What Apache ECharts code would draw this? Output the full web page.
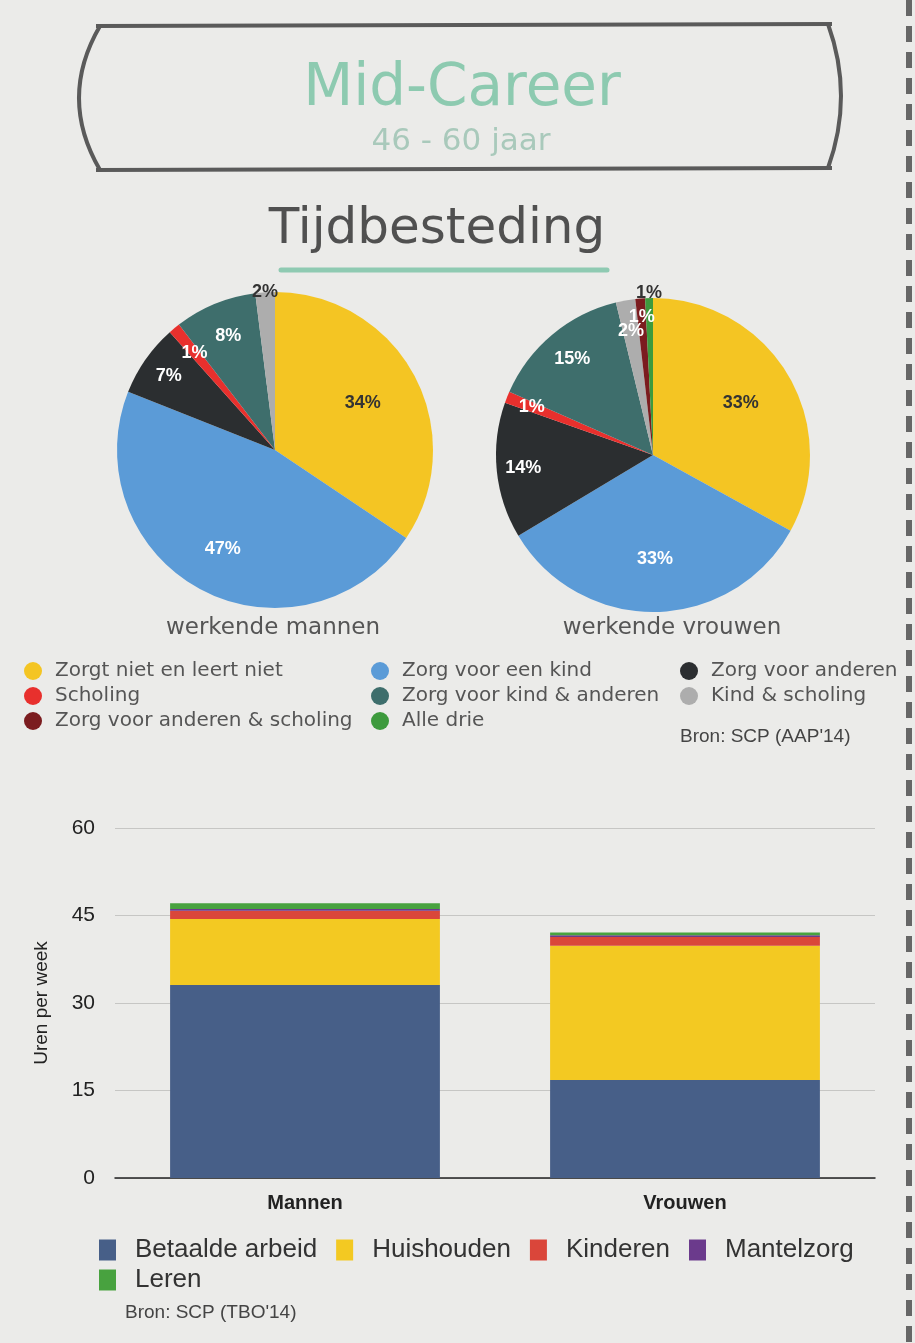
<!DOCTYPE html>
<html>
<head>
<meta charset="utf-8">
<title>Mid-Career tijdbesteding</title>
<script src="https://cdn.jsdelivr.net/npm/echarts@6/dist/echarts.min.js"></script>
<style>
  html, body { margin: 0; padding: 0; background: #ebebe9; }
  #main { width: 915px; height: 1343px; }
</style>
</head>
<body>
<div id="main"></div>
<script>
// pie categories (legend order)
const pieNames = [
  "Zorgt niet en leert niet",
  "Zorg voor een kind",
  "Zorg voor anderen",
  "Scholing",
  "Zorg voor kind & anderen",
  "Kind & scholing",
  "Zorg voor anderen & scholing",
  "Alle drie",
];
const pieColors = ["#f4c523", "#5b9bd7", "#2b2e30", "#e8302d", "#3e6e6c", "#adadad", "#7b1c1f", "#3d9a3d"];
// shares in %
const mannenShares = [34.4, 46.6, 7.4, 1.2, 8.4, 2.0, 0, 0];
const vrouwenShares = [33.0, 33.4, 14.0, 1.2, 14.6, 2.0, 1.0, 0.8];

// bar chart
const groups = ["Mannen", "Vrouwen"];
const activities = ["Betaalde arbeid", "Huishouden", "Kinderen", "Mantelzorg", "Leren"];
const barColors = ["#475f88", "#f3c922", "#da463a", "#6b3a8c", "#48a23f"];
const betaaldeArbeid = [33.1, 16.8];
const huishouden = [11.3, 23.0];
const kinderen = [1.4, 1.5];
const mantelzorg = [0.3, 0.3];
const leren = [1.0, 0.5];
const yTicks = [0, 15, 30, 45, 60];

const chart = echarts.init(document.getElementById("main"));

// where the % labels sit, as a fraction of the radius
const mannenLabelR = [0.63, 0.71, 0.82, 0.8, 0.78, 1.0];
const vrouwenLabelR = [0.65, 0.66, 0.83, 0.83, 0.8, 0.8, 0.88, 1.03];

function pieData(shares, radii) {
  return shares
    .map((v, i) => ({
      name: pieNames[i],
      value: v,
      itemStyle: { color: pieColors[i] },
      label: { color: i === 0 || radii[i] >= 1 ? "#333" : "#fff" },
    }))
    .filter((d) => d.value > 0);
}

function pushOut(cx, cy, R, radii) {
  return function (p) {
    const r = p.labelRect;
    const lx = r.x + r.width / 2;
    const ly = r.y + r.height / 2;
    const vx = lx - cx;
    const vy = ly - cy;
    const d = Math.sqrt(vx * vx + vy * vy) || 1;
    const k = (radii[p.dataIndex] * R) / d - 1;
    return { dx: vx * k, dy: vy * k };
  };
}

function pieSeries(name, shares, radii, cx, cy, R) {
  return {
    name: name,
    type: "pie",
    center: [cx, cy],
    radius: [0, R],
    startAngle: 90,
    clockwise: true,
    avoidLabelOverlap: false,
    emphasis: { disabled: true },
    label: {
      show: true,
      position: "inside",
      fontFamily: "Liberation Sans",
      fontWeight: "bold",
      fontSize: 18,
      formatter: (p) => Math.round(p.value) + "%",
    },
    labelLine: { show: false },
    labelLayout: pushOut(cx, cy, R, radii),
    data: pieData(shares, radii),
  };
}

function pieLegend(left, idx) {
  return {
    orient: "vertical",
    left: left,
    top: 661,
    padding: 0,
    icon: "circle",
    itemWidth: 18,
    itemHeight: 18,
    itemGap: 5,
    selectedMode: false,
    textStyle: {
      fontFamily: "DejaVu Sans",
      fontSize: 20,
      lineHeight: 18,
      color: "#555",
      padding: [0, 0, 0, 8],
    },
    data: idx.map((i) => pieNames[i]),
  };
}

function barLegend(top, names) {
  return {
    left: 99,
    top: top,
    padding: 0,
    icon: "rect",
    itemWidth: 17,
    itemHeight: 21,
    itemGap: 19,
    selectedMode: false,
    textStyle: { fontFamily: "Liberation Sans", fontSize: 26, color: "#333", padding: [0, 0, 0, 14] },
    data: names,
  };
}

const option = {
  backgroundColor: "#ebebe9",
  animation: false,
  legend: [
    pieLegend(24, [0, 3, 6]),
    pieLegend(371, [1, 4, 7]),
    pieLegend(680, [2, 5]),
    barLegend(1237, activities.slice(0, 4)),
    barLegend(1267, activities.slice(4)),
  ],
  grid: { left: 115, right: 40, top: 828, bottom: 165 },
  xAxis: {
    type: "category",
    data: groups,
    axisTick: { show: false },
    axisLine: { lineStyle: { color: "#222", width: 1.5 } },
    axisLabel: {
      margin: 15,
      fontFamily: "Liberation Sans",
      fontWeight: "bold",
      fontSize: 20,
      color: "#222",
    },
  },
  yAxis: {
    type: "value",
    min: yTicks[0],
    max: yTicks[yTicks.length - 1],
    interval: 15,
    name: "Uren per week",
    nameLocation: "middle",
    nameGap: 64,
    nameRotate: 90,
    nameTextStyle: { fontFamily: "Liberation Sans", fontSize: 19, color: "#222" },
    axisLine: { show: false },
    axisTick: { show: false },
    axisLabel: { margin: 20, fontFamily: "Liberation Sans", fontSize: 21, color: "#222" },
    splitLine: { lineStyle: { color: "#c6c6c4" } },
  },
  series: [
    pieSeries("werkende mannen", mannenShares, mannenLabelR, 275, 450, 158),
    pieSeries("werkende vrouwen", vrouwenShares, vrouwenLabelR, 653, 455, 157),
  ].concat(
    [betaaldeArbeid, huishouden, kinderen, mantelzorg, leren].map((vals, i) => ({
      name: activities[i],
      type: "bar",
      stack: "uren",
      barWidth: "71%",
      itemStyle: { color: barColors[i] },
      emphasis: { disabled: true },
      data: vals,
    }))
  ),
  graphic: [
    // rounded title box
    { type: "line", shape: { x1: 96, y1: 26, x2: 832, y2: 24 }, style: { stroke: "#5a5a5a", lineWidth: 4 } },
    { type: "line", shape: { x1: 96, y1: 170, x2: 832, y2: 168 }, style: { stroke: "#5a5a5a", lineWidth: 4 } },
    { type: "bezierCurve", shape: { x1: 100, y1: 26, cpx1: 58, cpy1: 98, x2: 100, y2: 170 }, style: { stroke: "#5a5a5a", lineWidth: 4, fill: null } },
    { type: "bezierCurve", shape: { x1: 828, y1: 24, cpx1: 854, cpy1: 96, x2: 828, y2: 168 }, style: { stroke: "#5a5a5a", lineWidth: 4, fill: null } },
    {
      type: "text",
      style: { text: "Mid-Career", x: 462, y: 90, textAlign: "center", textVerticalAlign: "middle", font: "58px 'DejaVu Sans'", fill: "#8dcab0" },
    },
    {
      type: "text",
      style: { text: "46 - 60 jaar", x: 461, y: 142, textAlign: "center", textVerticalAlign: "middle", font: "31px 'DejaVu Sans'", fill: "#a9c9bb" },
    },
    {
      type: "text",
      style: { text: "Tijdbesteding", x: 437, y: 230, textAlign: "center", textVerticalAlign: "middle", font: "50px 'DejaVu Sans'", fill: "#505050" },
    },
    { type: "line", shape: { x1: 281, y1: 270, x2: 607, y2: 270 }, style: { stroke: "#8fcab2", lineWidth: 5, lineCap: "round" } },
    {
      type: "text",
      style: { text: "werkende mannen", x: 273, y: 628, textAlign: "center", textVerticalAlign: "middle", font: "23px 'DejaVu Sans'", fill: "#555" },
    },
    {
      type: "text",
      style: { text: "werkende vrouwen", x: 672, y: 628, textAlign: "center", textVerticalAlign: "middle", font: "23px 'DejaVu Sans'", fill: "#555" },
    },
    {
      type: "text",
      style: { text: "Bron: SCP (AAP'14)", x: 680, y: 737, textVerticalAlign: "middle", font: "19px 'Liberation Sans'", fill: "#444" },
    },
    {
      type: "text",
      style: { text: "Bron: SCP (TBO'14)", x: 125, y: 1313, textVerticalAlign: "middle", font: "19px 'Liberation Sans'", fill: "#444" },
    },
    // dashed page edge
    { type: "line", shape: { x1: 909, y1: 0, x2: 909, y2: 1343 }, style: { stroke: "#666", lineWidth: 6, lineDash: [16, 10] } },
  ],
};

chart.setOption(option);
window.addEventListener("resize", function () {
  chart.resize();
});
</script>
</body>
</html>
